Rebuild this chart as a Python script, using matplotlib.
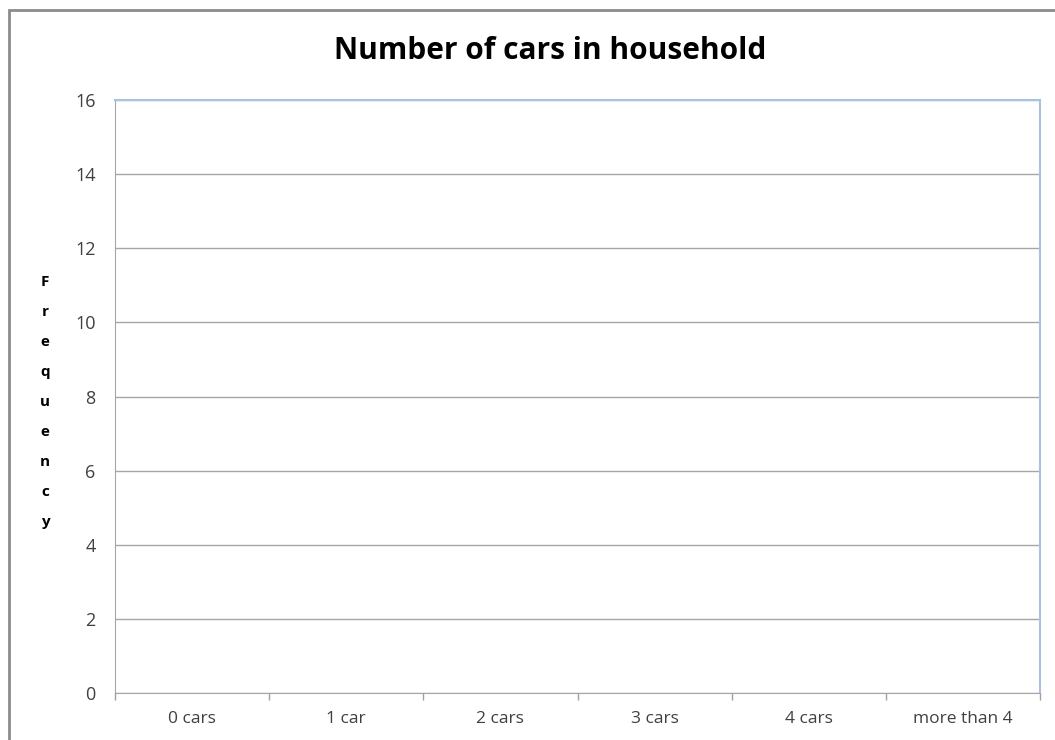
import matplotlib.pyplot as plt
from matplotlib.patches import Rectangle
import numpy as np

# chart data (empty chart: no frequencies entered yet)
categories = ["0 cars", "1 car", "2 cars", "3 cars", "4 cars", "more than 4"]
frequency = [0, 0, 0, 0, 0, 0]
yticks = [0, 2, 4, 6, 8, 10, 12, 14, 16]

plt.rcParams['font.family'] = ['Open Sans', 'DejaVu Sans']

fig = plt.figure(figsize=(10.55, 7.4), dpi=100)
ax = fig.add_axes([115/1055, 1-693/740, 925/1055, 593/740])

x = np.arange(len(categories))
ax.bar(x, frequency, width=0.6, color="#4f81bd")

ax.set_xlim(-0.5, len(categories)-0.5)
ax.set_ylim(0, 16)
ax.set_yticks(yticks)
ax.set_yticklabels([str(v) for v in yticks], fontsize=13, color="#404040")
ax.set_xticks(x)
ax.set_xticklabels(categories, fontsize=12.5, color="#404040")
ax.tick_params(axis="x", length=0, pad=13)
ax.tick_params(axis="y", length=0, pad=14)
# tick marks at category boundaries
ax.set_xticks(np.arange(len(categories)+1)-0.5, minor=True)
ax.tick_params(axis="x", which="minor", length=5, color="#a0a0a0", width=1)

ax.grid(axis="y", color="#a6a6a6", linewidth=1)
ax.set_axisbelow(True)
for s in ["left", "bottom"]:
    ax.spines[s].set_color("#a6a6a6")
for s in ["top", "right"]:
    ax.spines[s].set_color("#a8c2e2")
    ax.spines[s].set_linewidth(1.5)

fig.text(550/1055, 1-51/740, "Number of cars in household", ha="center", va="center",
         fontsize=21.5, fontweight="bold", color="black")
fig.text(45/1055, 1-402/740, "\n".join("Frequency"), ha="center", va="center",
         fontsize=11, fontweight="bold", color="black", linespacing=2.45)

# outer chart border
fig.patches.append(Rectangle((9/1055, -0.1), 1.2, 1.1-10/740, transform=fig.transFigure,
                             fill=False, edgecolor="#8c8c8c", linewidth=2))

fig.savefig("out.png", dpi=100)
